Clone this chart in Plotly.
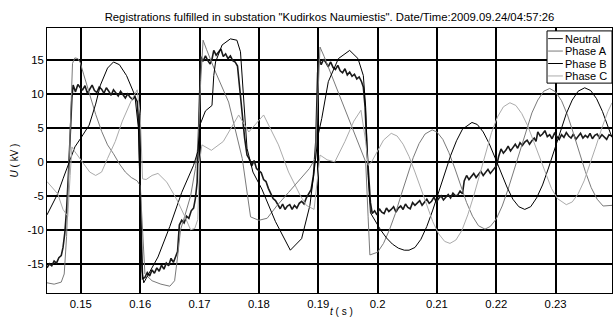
import plotly.graph_objects as go

TITLE = 'Registrations fulfilled in substation "Kudirkos Naumiestis". Date/Time:2009.09.24/04:57:26'
SERIES_NAMES = ["Neutral", "Phase A", "Phase B", "Phase C"]
X_TICKS = [0.15, 0.16, 0.17, 0.18, 0.19, 0.20, 0.21, 0.22, 0.23]
X_TICK_LABELS = ["0.15", "0.16", "0.17", "0.18", "0.19", "0.2", "0.21", "0.22", "0.23"]
Y_TICKS = [-15, -10, -5, 0, 5, 10, 15]
Y_TICK_LABELS = ["-15", "-10", "-5", "0", "5", "10", "15"]

# ---- Neutral (noisy) ----
t_neutral = [
    0.1443, 0.1447, 0.1451, 0.1455, 0.1459, 0.1463, 0.1467, 0.1470,
    0.1473, 0.1476, 0.1479, 0.1482, 0.1485, 0.1487,
    0.1491, 0.1495, 0.1499, 0.1503, 0.1507, 0.1511, 0.1515, 0.1519, 0.1523, 0.1527,
    0.1531, 0.1535, 0.1539, 0.1543, 0.1547, 0.1551, 0.1555, 0.1559, 0.1563, 0.1567,
    0.1571, 0.1575, 0.1579, 0.1583, 0.1587, 0.1591, 0.1595,
    0.1598, 0.1601, 0.1604,
    0.1608, 0.1612, 0.1616, 0.1620, 0.1624, 0.1628, 0.1632, 0.1636, 0.1640, 0.1644,
    0.1648, 0.1652, 0.1656, 0.1660, 0.1663,
    0.1666, 0.1670, 0.1674, 0.1678, 0.1682, 0.1686, 0.1690, 0.1693, 0.1696,
    0.1699, 0.1702,
    0.1706, 0.1710, 0.1714, 0.1718, 0.1721, 0.1724, 0.1728, 0.1732, 0.1736, 0.1740,
    0.1744, 0.1748, 0.1752, 0.1756, 0.1760, 0.1764,
    0.1768, 0.1772, 0.1776, 0.1780, 0.1784, 0.1788, 0.1792, 0.1796, 0.1800, 0.1804,
    0.1808, 0.1812, 0.1816, 0.1820, 0.1824, 0.1828, 0.1832, 0.1836, 0.1840, 0.1844,
    0.1848, 0.1852, 0.1856, 0.1860, 0.1864, 0.1868, 0.1872, 0.1876, 0.1880, 0.1884,
    0.1888, 0.1892,
    0.1896, 0.1899, 0.1901,
    0.1905, 0.1909, 0.1913, 0.1917, 0.1921, 0.1925, 0.1929, 0.1933, 0.1937, 0.1941,
    0.1945, 0.1949, 0.1953, 0.1957, 0.1961, 0.1965, 0.1969, 0.1973, 0.1976,
    0.1979, 0.1982, 0.1985, 0.1988, 0.1991,
    0.1995, 0.1999, 0.2003, 0.2007, 0.2011, 0.2015, 0.2019, 0.2023, 0.2027, 0.2031,
    0.2035, 0.2039, 0.2043, 0.2047, 0.2051, 0.2055, 0.2059, 0.2063, 0.2067, 0.2071,
    0.2075, 0.2079, 0.2083, 0.2087, 0.2091, 0.2095, 0.2099, 0.2103, 0.2107, 0.2111,
    0.2115, 0.2119, 0.2123, 0.2127, 0.2131, 0.2135, 0.2139, 0.2143,
    0.2146, 0.2150, 0.2154, 0.2158, 0.2162, 0.2166, 0.2170, 0.2174, 0.2178, 0.2182,
    0.2186, 0.2190, 0.2194, 0.2198, 0.2201,
    0.2204, 0.2208, 0.2212, 0.2216, 0.2220, 0.2224, 0.2228, 0.2232, 0.2236, 0.2240,
    0.2244, 0.2248, 0.2252, 0.2256, 0.2260, 0.2264, 0.2267, 0.2270, 0.2274, 0.2278,
    0.2282, 0.2286, 0.2290, 0.2294, 0.2298, 0.2302, 0.2306, 0.2310, 0.2314, 0.2318,
    0.2322, 0.2326, 0.2330, 0.2334, 0.2338, 0.2342, 0.2346, 0.2350, 0.2354, 0.2358,
    0.2362, 0.2366, 0.2370, 0.2374, 0.2378, 0.2382, 0.2386, 0.2390, 0.2395,
]
u_neutral = [
    -15.6, -15.0, -15.3, -14.6, -14.9, -14.1, -13.8, -12.6,
    -10.5, -7.0, -2.0, 5.0, 9.5, 11.3,
    10.3, 11.4, 10.9, 10.6, 11.2, 10.1, 10.8, 11.3, 10.5, 10.2,
    11.0, 10.7, 10.1, 10.9, 10.4, 9.8, 10.6, 10.2, 9.7, 10.4,
    9.9, 9.4, 10.0, 9.5, 9.2, 9.6, 8.9,
    5.0, -8.0, -17.2,
    -17.0, -16.3, -16.8, -15.9, -16.4, -15.6, -16.1, -15.2, -15.8, -14.9,
    -15.3, -14.2, -14.8, -13.9, -13.2,
    -9.3, -8.6, -9.0, -8.0, -8.3, -7.2, -6.8, -5.4, -3.0,
    5.0, 15.5,
    14.8, 15.6, 14.9, 14.4, 15.1, 16.4, 15.7, 16.1, 16.6, 15.5,
    15.9, 15.2, 15.6, 14.9, 14.7, 14.1,
    11.0, 7.0, 3.5, 1.0, 0.4, -0.6, 0.2, -1.0, -1.3, -1.6,
    -2.6, -2.9, -3.9, -4.6, -5.4, -5.7, -6.4, -6.9, -6.2, -7.0,
    -6.5, -6.3, -7.0, -6.4, -6.8, -6.1, -5.8, -6.2, -5.3, -4.6,
    -4.1, -2.0,
    3.0, 13.0, 15.3,
    14.3, 15.1, 14.6, 14.0, 14.7, 13.9, 13.6, 14.2, 13.4, 13.1,
    13.7, 12.8, 13.2, 12.6, 12.9, 12.2, 12.5, 11.8, 11.0,
    8.0, 2.0, -3.0, -6.0, -7.6,
    -7.2, -7.8, -6.9, -7.4, -7.6, -6.8, -7.3, -7.0, -6.6, -7.4,
    -6.8, -6.5, -7.0, -6.2, -6.7, -6.9, -6.0, -6.4, -6.1, -5.7,
    -6.4, -5.9, -5.5, -6.1, -5.8, -5.2, -5.9, -5.4, -5.0, -5.6,
    -5.2, -4.8, -5.3, -4.6, -5.0, -4.9, -4.3, -4.7,
    -2.8, -2.0, -2.6, -2.2, -1.7, -2.3, -1.9, -1.4, -2.0, -1.5,
    -1.1, -1.7, -1.2, -0.7, -0.5,
    0.8, 1.9, 1.3, 1.7, 2.3, 1.6, 2.1, 2.6, 2.0, 2.8,
    2.4, 2.9, 3.2, 2.6, 3.1, 3.5, 3.0, 4.4, 3.8, 4.1,
    4.6, 3.7, 4.0, 3.4, 4.2, 3.7, 3.3, 4.0, 3.6, 4.3,
    3.8, 3.5, 4.1, 3.3, 3.8, 4.2, 3.5, 3.9, 3.6, 4.2,
    3.4, 3.9, 4.1, 3.5, 4.0, 3.7, 3.3, 4.0, 3.8,
]

# ---- Phase A ----
t_phase_a = [
    0.1443, 0.1455, 0.1467, 0.1472, 0.1476, 0.1480, 0.1483, 0.1486, 0.1490, 0.1495,
    0.1499, 0.1505, 0.1515, 0.1525, 0.1535, 0.1545, 0.1555, 0.1565, 0.1575, 0.1585,
    0.1595, 0.1600, 0.1604, 0.1608, 0.1620, 0.1635, 0.1650, 0.1658, 0.1663, 0.1668,
    0.1675, 0.1685, 0.1693, 0.1698, 0.1702, 0.1706, 0.1712, 0.1727, 0.1749, 0.1772,
    0.1786, 0.1800, 0.1814, 0.1830, 0.1850, 0.1870, 0.1885, 0.1895, 0.1899, 0.1903,
    0.1910, 0.1930, 0.1950, 0.1970, 0.1980, 0.1984, 0.1987,
    0.2000, 0.2010, 0.2020, 0.2030, 0.2040, 0.2050, 0.2060, 0.2070, 0.2080, 0.2092,
    0.2100, 0.2110, 0.2120, 0.2130, 0.2140, 0.2150, 0.2160, 0.2170, 0.2181,
    0.2190, 0.2200, 0.2210, 0.2220, 0.2230, 0.2240, 0.2250, 0.2260, 0.2270, 0.2280, 0.2290,
    0.2300, 0.2310, 0.2320, 0.2330, 0.2340, 0.2350, 0.2360, 0.2370, 0.2380, 0.2395,
]
u_phase_a = [
    -17.8, -18.0, -17.7, -16.5, -11.0, -2.0, 7.0, 14.5, 15.3, 15.2,
    14.6, 12.8, 9.8, 7.0, 4.5, 2.5, 1.2, -0.3, -1.5, -2.3,
    -2.8, -3.5, -10.0, -16.5, -17.5, -18.0, -18.3, -17.5, -14.0, -10.0,
    -8.0, -5.0, -1.0, 3.0, 12.0, 17.9, 16.5, 13.2, 8.8, 0.5,
    -8.1, -8.6, -8.3, -6.5, -4.5, -2.5, -1.0, 0.5, 8.0, 16.9,
    15.5, 11.0, 6.5, 2.0, 0.0, -8.0, -13.7,
    -13.3, -12.0, -10.0, -7.6, -4.8, -2.0, 0.6, 2.7, 4.1, 4.7,
    4.4, 3.3, 1.4, -0.9, -3.5, -6.0, -8.0, -9.4, -9.9,
    -9.5, -8.4, -6.5, -4.0, -1.2, 1.8, 4.6, 7.2, 9.1, 10.4, 10.8,
    10.3, 9.0, 6.9, 4.2, 1.4, -1.4, -3.8, -5.5, -6.5, -6.4,
]

# ---- Phase B ----
t_phase_b = [
    0.1443, 0.1455, 0.1461, 0.1470, 0.1478, 0.1486, 0.1490, 0.1500, 0.1514, 0.1525,
    0.1533, 0.1545, 0.1555, 0.1565, 0.1577, 0.1591, 0.1597, 0.1600, 0.1603, 0.1606,
    0.1630, 0.1650, 0.1670, 0.1690, 0.1697, 0.1701, 0.1710, 0.1721, 0.1724, 0.1727,
    0.1738, 0.1752, 0.1763, 0.1769, 0.1774, 0.1780, 0.1790, 0.1805, 0.1828, 0.1853,
    0.1872, 0.1886, 0.1895, 0.1900, 0.1906, 0.1917, 0.1934, 0.1953, 0.1967, 0.1976,
    0.1980, 0.1984, 0.1988, 0.1995, 0.2005, 0.2015, 0.2025, 0.2035, 0.2045, 0.2053,
    0.2063, 0.2073, 0.2083, 0.2093, 0.2103, 0.2113, 0.2123, 0.2133, 0.2143, 0.2159,
    0.2168, 0.2178, 0.2188, 0.2198, 0.2208, 0.2218, 0.2228, 0.2238, 0.2248,
    0.2258, 0.2268, 0.2278, 0.2288, 0.2298, 0.2308, 0.2318, 0.2328, 0.2338, 0.2349,
    0.2359, 0.2369, 0.2379, 0.2389, 0.2395,
]
u_phase_b = [
    -7.8, -5.8, -4.7, -2.5, -0.5, 1.5, 2.2, 3.5, 5.4, 8.5,
    11.3, 13.8, 14.7, 14.3, 12.7, 9.8, 5.0, -5.0, -16.0, -17.8,
    -14.0, -9.5, -4.5, -0.5, 1.5, 5.5, 7.5, 8.3, 12.7, 14.7,
    17.2, 18.1, 17.9, 16.2, 10.3, 2.0, -1.5, -4.0, -8.8, -13.0,
    -11.3, -6.4, 0.0, 4.0, 6.4, 11.8, 15.2, 16.4, 15.2, 12.7,
    8.0, -2.0, -7.5, -8.6, -10.0, -11.2, -12.1, -12.7, -13.0, -13.0,
    -12.6, -11.4, -9.5, -7.1, -4.4, -1.7, 0.9, 3.1, 4.8, 5.8,
    5.5, 4.4, 2.7, 0.6, -1.6, -3.7, -5.5, -6.6, -7.0,
    -6.6, -5.3, -3.4, -0.9, 1.8, 4.6, 7.1, 9.1, 10.4, 10.9,
    10.5, 9.3, 7.4, 5.0, 3.6,
]

# ---- Phase C ----
t_phase_c = [
    0.1443, 0.1461, 0.1470, 0.1478, 0.1482, 0.1485, 0.1490, 0.1500, 0.1515, 0.1525,
    0.1535, 0.1545, 0.1558, 0.1570, 0.1585, 0.1595, 0.1600, 0.1604, 0.1610, 0.1620,
    0.1630, 0.1645, 0.1662, 0.1675, 0.1685, 0.1692, 0.1697, 0.1700, 0.1704, 0.1720,
    0.1740, 0.1766, 0.1783, 0.1808, 0.1833, 0.1850, 0.1870, 0.1880, 0.1893, 0.1898,
    0.1903, 0.1915, 0.1928, 0.1945, 0.1960, 0.1972, 0.1980, 0.1984,
    0.1990, 0.2000, 0.2010, 0.2023, 0.2033, 0.2043, 0.2053, 0.2063, 0.2073, 0.2083,
    0.2093, 0.2103, 0.2113, 0.2122, 0.2132, 0.2142, 0.2152, 0.2162, 0.2172, 0.2182,
    0.2192, 0.2202, 0.2212, 0.2223, 0.2233, 0.2243, 0.2253, 0.2263, 0.2273, 0.2283,
    0.2293, 0.2303, 0.2318, 0.2328, 0.2338, 0.2348, 0.2358, 0.2368, 0.2378, 0.2388,
    0.2395,
]
u_phase_c = [
    -2.9, -4.7, -7.0, -8.0, -2.0, 2.2, 1.5, 0.3, -1.5, -2.0,
    -1.5, 0.5, 3.0, 6.0, 9.0, 10.6, 7.0, -2.5, -2.6, -2.0,
    -1.7, -3.0, -5.6, -8.0, -10.0, -9.8, -8.5, 0.0, 2.5, 1.7,
    3.0, 6.9, 4.4, 6.9, 2.5, -1.5, -5.0, -6.4, -7.0, -3.0,
    1.0, 0.3, 0.0, 3.0, 6.0, 7.6, 3.0, -0.5,
    0.0, 1.6, 3.2, 4.2, 3.8, 2.6, 0.8, -1.5, -4.0, -6.5,
    -8.8, -10.6, -11.7, -12.0, -11.5, -10.1, -7.8, -5.0, -1.8, 1.4,
    4.3, 6.6, 8.1, 8.7, 8.3, 7.1, 5.3, 3.0, 0.6, -1.8,
    -3.9, -5.4, -6.3, -5.9, -4.7, -2.8, -0.4, 2.3, 5.0, 7.4,
    8.7,
]

SERIES = [
    (t_neutral, u_neutral),
    (t_phase_a, u_phase_a),
    (t_phase_b, u_phase_b),
    (t_phase_c, u_phase_c),
]
COLORS = ["#1a1a1a", "#7a7a7a", "#000000", "#ababab"]
WIDTHS = [1.6, 1.0, 1.0, 1.0]

FONT = "Liberation Sans, Arial, sans-serif"

fig = go.Figure()
for name, (t, u), c, w in zip(SERIES_NAMES, SERIES, COLORS, WIDTHS):
    fig.add_trace(go.Scatter(x=t, y=u, mode="lines", name=name,
                             line=dict(color=c, width=w), showlegend=False))

# custom MATLAB-like legend (box in paper coordinates)
lx0, lx1, ly0, ly1 = 0.885, 1.0, 0.792, 0.989
shapes = [dict(type="rect", xref="paper", yref="paper", x0=lx0, x1=lx1, y0=ly0, y1=ly1,
               line=dict(color="black", width=1), fillcolor="white", layer="above")]
annotations = []
row_y = [0.960, 0.913, 0.866, 0.819]
for name, c, ry in zip(SERIES_NAMES, COLORS, row_y):
    shapes.append(dict(type="line", xref="paper", yref="paper", x0=0.887, x1=0.913,
                       y0=ry, y1=ry, line=dict(color=c, width=1), layer="above"))
    annotations.append(dict(xref="paper", yref="paper", x=0.914, y=ry, text=name,
                            showarrow=False, xanchor="left", yanchor="middle",
                            font=dict(family=FONT, size=11, color="black")))

# x-axis title placed as text just under the tick labels
annotations.append(dict(xref="paper", yref="paper", x=0.522, y=-0.071,
                        text="<i>t</i> ( s )", showarrow=False,
                        xanchor="center", yanchor="middle",
                        font=dict(family=FONT, size=10, color="black")))

fig.update_layout(
    width=613, height=318,
    margin=dict(l=47, r=1, t=28, b=25),
    paper_bgcolor="white", plot_bgcolor="white",
    title=dict(text=TITLE, x=(47 + 612) / 2 / 613, xanchor="center", y=1 - 17 / 318,
               yanchor="middle", font=dict(family=FONT, size=11.3, color="black")),
    font=dict(family=FONT, size=11.3, color="black"),
    shapes=shapes, annotations=annotations,
    showlegend=False,
)
fig.update_xaxes(range=[0.1443, 0.2395], tickvals=X_TICKS, ticktext=X_TICK_LABELS,
                 showgrid=True, gridcolor="black", gridwidth=1.5,
                 showline=True, linecolor="black", linewidth=1, mirror=True,
                 zeroline=False, ticks="", ticklen=0)
fig.update_yaxes(range=[-19.3, 19.7], tickvals=Y_TICKS, ticktext=Y_TICK_LABELS,
                 showgrid=True, gridcolor="black", gridwidth=1.5,
                 showline=True, linecolor="black", linewidth=1, mirror=True,
                 zeroline=False, ticks="", ticklen=0,
                 title=dict(text="<i>U</i> ( kV )", standoff=6, font=dict(size=10)))

fig.write_html("out.html", config={"displayModeBar": False},
               post_script="document.body.style.margin='0';")
